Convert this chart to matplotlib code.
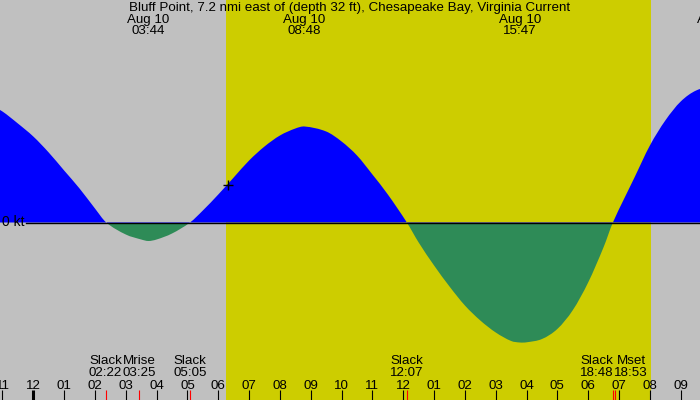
import matplotlib
matplotlib.use('Agg')
import matplotlib.pyplot as plt
import matplotlib.transforms as mtransforms
from matplotlib.path import Path
from matplotlib.patches import PathPatch, Rectangle
import numpy as np

plt.rcParams['font.family'] = ['Liberation Sans', 'DejaVu Sans']

title = 'Bluff Point, 7.2 nmi east of (depth 32 ft), Chesapeake Bay, Virginia Current'

# current speed (kt), every half hour (hours from midnight Aug 10)
hours = [-1.5, -1.0, -0.5, 0.0, 0.5, 1.0, 1.5, 2.0, 2.5, 3.0, 3.5, 4.0, 4.5, 5.0,
         5.5, 6.0, 6.5, 7.0, 7.5, 8.0, 8.5, 9.0, 9.5, 10.0, 10.5, 11.0, 11.5, 12.0,
         12.5, 13.0, 13.5, 14.0, 14.5, 15.0, 15.5, 16.0, 16.5, 17.0, 17.5, 18.0, 18.5,
         19.0, 19.5, 20.0, 20.5, 21.0, 21.5, 22.0]
speed = [1.20, 1.11, 0.99, 0.86, 0.70, 0.52, 0.34, 0.14, -0.03, -0.12, -0.17, -0.17, -0.11, -0.02,
         0.12, 0.28, 0.45, 0.62, 0.76, 0.87, 0.94, 0.955, 0.91, 0.81, 0.67, 0.48, 0.28, 0.05,
         -0.20, -0.43, -0.64, -0.83, -0.98, -1.10, -1.185, -1.198, -1.165, -1.064, -0.876, -0.598, -0.245,
         0.13, 0.45, 0.77, 1.02, 1.21, 1.32, 1.37]

# slack and max events
slack_hours = [2.367, 5.083, 12.117, 18.8]
slack_labels = ['02:22', '05:05', '12:07', '18:48']
peak_hours = [3.733, 8.8, 15.783, 22.2]
peak_speed = [-0.185, 0.96, -1.20, 1.38]
peak_labels = ['03:44', '08:48', '15:47', '22:12']
peak_date = 'Aug 10'

moon_names = ['Mrise', 'Mset']
moon_hours = [3.417, 18.883]
moon_labels = ['03:25', '18:53']

sunrise, sunset = 6.25, 20.03
now_hour, now_speed = 6.32, 0.38

tick_hours = list(range(-1, 22))
tick_labels = ['11', '12', '01', '02', '03', '04', '05', '06', '07', '08', '09', '10', '11',
               '12', '01', '02', '03', '04', '05', '06', '07', '08', '09']

# merge samples with exact events, dropping samples too close to an event
ev_t = slack_hours + peak_hours
ev_v = [0.0] * len(slack_hours) + peak_speed
keep = [(h, s) for h, s in zip(hours, speed) if min(abs(h - e) for e in ev_t) > 0.2]
pts = sorted(keep + list(zip(ev_t, ev_v)))
t = np.array([p[0] for p in pts])
v = np.array([p[1] for p in pts])

px_per_hr = 30.83
x0 = 33.3  # midnight pixel
xmin = -x0 / px_per_hr
xmax = (700 - x0) / px_per_hr

fig = plt.figure(figsize=(7, 4), dpi=100)
fig.patch.set_facecolor('#c0c0c0')
ax = fig.add_axes([0, 0, 1, 1])
ax.set_facecolor('#c0c0c0')
ax.set_xlim(xmin, xmax)
ax.set_ylim(-1.775, 2.225)
for sp in ax.spines.values():
    sp.set_visible(False)
ax.set_xticks([])
ax.set_yticks([])

ax.axvspan(sunrise, sunset, color='#cdcd00', zorder=0, lw=0)

# smooth curve through the read points (Catmull-Rom as cubic Bezier segments)
verts = [(t[0], 0.0), (t[0], v[0])]
codes = [Path.MOVETO, Path.LINETO]
for i in range(len(t) - 1):
    tp = t[i - 1] if i > 0 else t[i]
    vp = v[i - 1] if i > 0 else v[i]
    tn = t[i + 2] if i + 2 < len(t) else t[i + 1]
    vn = v[i + 2] if i + 2 < len(t) else v[i + 1]
    h = t[i + 1] - t[i]
    m0 = (v[i + 1] - vp) / (t[i + 1] - tp)
    m1 = (vn - v[i]) / (tn - t[i])
    verts += [(t[i] + h / 3, v[i] + m0 * h / 3),
              (t[i + 1] - h / 3, v[i + 1] - m1 * h / 3),
              (t[i + 1], v[i + 1])]
    codes += [Path.CURVE4] * 3
verts += [(t[-1], 0.0), (t[0], 0.0)]
codes += [Path.LINETO, Path.CLOSEPOLY]
path = Path(verts, codes)

for color, y0, y1 in [('#0000ff', 0, 5), ('#2e8b57', -5, 0)]:
    patch = PathPatch(path, facecolor=color, edgecolor='none', zorder=1)
    ax.add_patch(patch)
    clip = Rectangle((xmin - 5, y0), xmax - xmin + 10, y1 - y0, transform=ax.transData)
    patch.set_clip_path(clip)

ax.plot([(26 - x0) / px_per_hr, xmax], [0, 0], color='black', lw=1, zorder=2)
ax.text(xmin + 2 / px_per_hr, 0, '0 kt', fontsize=10, ha='left', va='center', zorder=3)
ax.plot([now_hour], [now_speed], marker='+', color='black', ms=7, mew=1, zorder=4)

trans = mtransforms.blended_transform_factory(ax.transData, ax.transAxes)

def fy(py):
    return 1 - py / 400.0

fs = 9.6
ax.text(0.5, fy(8), title, transform=ax.transAxes, ha='center', va='center', fontsize=fs)
for h, lab in zip(peak_hours, peak_labels):
    ax.text(h, fy(20), peak_date, transform=trans, ha='center', va='center', fontsize=fs)
    ax.text(h, fy(31.5), lab, transform=trans, ha='center', va='center', fontsize=fs)

# hour ticks
for h, lab in zip(tick_hours, tick_labels):
    lw = 2.2 if h == 0 else 0.8
    ax.plot([h, h], [0, 10 / 400], transform=trans, color='black', lw=lw, solid_capstyle='butt')
    ax.text(h, fy(386), lab, transform=trans, ha='center', va='center', fontsize=fs)

# bottom event labels (slack + moon), spread apart when overlapping
ev = sorted([(h, 'Slack', s) for h, s in zip(slack_hours, slack_labels)] +
            [(h, n, s) for h, n, s in zip(moon_hours, moon_names, moon_labels)])
centers = [e[0] for e in ev]
w = 34 / px_per_hr
for i in range(len(centers) - 1):
    if centers[i + 1] - centers[i] < w:
        mid = (centers[i] + centers[i + 1]) / 2
        centers[i], centers[i + 1] = mid - w / 2, mid + w / 2
for (h, name, s), c in zip(ev, centers):
    ax.plot([h, h], [0, 10 / 400], transform=trans, color='red', lw=0.8, solid_capstyle='butt')
    ax.text(c, fy(361.5), name, transform=trans, ha='center', va='center', fontsize=fs)
    ax.text(c, fy(373.5), s, transform=trans, ha='center', va='center', fontsize=fs)

fig.savefig('out.png', dpi=100, facecolor=fig.get_facecolor())
